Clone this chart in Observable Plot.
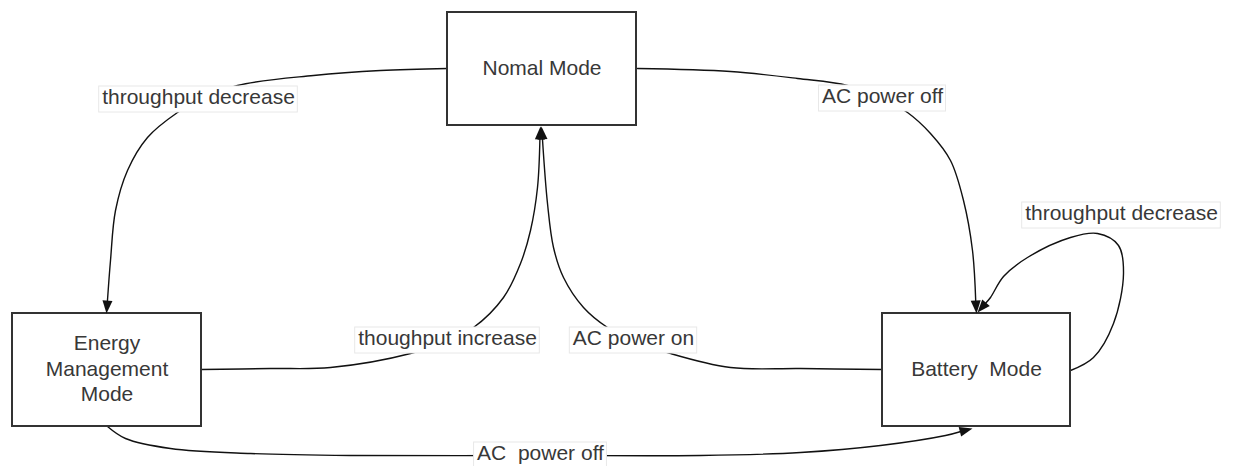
<!DOCTYPE html>
<html><head><meta charset="utf-8">
<script src="https://cdn.jsdelivr.net/npm/d3@7"></script>
<script src="https://cdn.jsdelivr.net/npm/@observablehq/plot@0.6"></script>
<style>body{margin:0;background:#fff} svg text{white-space:pre}</style>
</head><body><div id="chart"></div>
<script>
// ---- States (diagram coordinates, pixel space of the original figure) ----
const stateNames = ["Nomal Mode", "Energy\nManagement\nMode", "Battery  Mode"];
const stateX1 = [447, 12, 882];
const stateX2 = [636, 201, 1070];
const stateY1 = [12, 313, 313];
const stateY2 = [125, 426, 426];

// ---- Transitions ----
const edgeLabels = ["throughput decrease", "AC power off", "thoughput increase", "AC power on", "throughput decrease", "AC  power off"];
const edgeLabelX = [198, 882, 447, 633, 1121, 540];
const edgeLabelY = [99, 98, 340, 340, 215, 455];
const edgeTipX = [106, 976, 540, 541, 977, 972];
const edgeTipY = [313, 313, 126, 126, 312, 428];
const edgePaths = [
  [[447,68],[380,70],[313,75],[237,85],[198,100],[177,112],[147,137],[127,170],[115,210],[110,260]],
  [[637,68],[730,71],[797,78],[847,85],[882,98],[907,112],[930,133],[950,160],[963,200],[972,250]],
  [[201,369],[270,368],[330,367],[410,353],[447,340],[473,327],[503,297],[520,263],[530,230],[537,187]],
  [[882,369],[800,368],[730,367],[670,353],[633,340],[607,327],[583,307],[563,277],[553,247],[547,203]],
  [[1070,370],[1093,357],[1113,323],[1123,273],[1118,245],[1097,233],[1070,237],[1027,257],[1003,276],[990,297]],
  [[107,426],[125,438],[170,448],[250,453],[350,455],[540,455],[700,455],[800,452],[880,445],[945,435]]
];

const ARROW_LEN = 13, ARROW_HALF = 5;
const FONT = "Liberation Sans, Arial, sans-serif";
const FONT_SIZE = 21;

// build tables
const states = stateNames.map((name, i) => ({
  name, x1: stateX1[i], x2: stateX2[i], y1: stateY1[i], y2: stateY2[i],
  cx: (stateX1[i] + stateX2[i]) / 2, cy: (stateY1[i] + stateY2[i]) / 2
}));

const lineRows = [];
const arrows = [];
edgePaths.forEach((pts, e) => {
  const tx = edgeTipX[e], ty = edgeTipY[e];
  const [px, py] = pts[pts.length - 1];
  const dx = tx - px, dy = ty - py, n = Math.hypot(dx, dy);
  const bx = tx - dx / n * (ARROW_LEN - 1), by = ty - dy / n * (ARROW_LEN - 1);
  pts.forEach(([x, y]) => lineRows.push({edge: e, x, y}));
  lineRows.push({edge: e, x: bx, y: by});
  arrows.push({x: tx, y: ty, angle: Math.atan2(dx, -dy) * 180 / Math.PI});
});

const ctx = document.createElement("canvas").getContext("2d");
ctx.font = `${FONT_SIZE}px 'Liberation Sans'`;
const labels = edgeLabels.map((t, i) => {
  const w = ctx.measureText(t).width + 6;
  return {text: t, x: edgeLabelX[i], y: edgeLabelY[i], x1: edgeLabelX[i] - w / 2, x2: edgeLabelX[i] + w / 2, y1: edgeLabelY[i] - 13, y2: edgeLabelY[i] + 13};
});

const arrowSymbol = {
  draw(context) {
    context.moveTo(0, 0);
    context.lineTo(-ARROW_HALF, ARROW_LEN);
    context.lineTo(ARROW_HALF, ARROW_LEN);
    context.closePath();
  }
};

const chart = Plot.plot({
  width: 1241,
  height: 466,
  margin: 0,
  style: {background: "#fff", fontFamily: FONT},
  x: {domain: [0, 1241], range: [0, 1241], axis: null},
  y: {domain: [0, 466], range: [0, 466], axis: null},
  marks: [
    Plot.line(lineRows, {x: "x", y: "y", z: "edge", curve: "catmull-rom", stroke: "#111", strokeWidth: 1.4}),
    Plot.rect(labels, {x1: "x1", x2: "x2", y1: "y1", y2: "y2", fill: "#fff", stroke: "#e8e8e8", strokeWidth: 1}),
    Plot.text(labels, {x: "x", y: "y", text: "text", fontSize: FONT_SIZE, fontFamily: FONT, fill: "#383838", dy: -2}),
    Plot.rect(states, {x1: "x1", x2: "x2", y1: "y1", y2: "y2", fill: "#fff", stroke: "#333", strokeWidth: 2}),
    Plot.text(states, {x: "cx", y: "cy", text: "name", fontSize: FONT_SIZE, fontFamily: FONT, fill: "#383838", lineHeight: 1.2, dy: -2.5}),
    Plot.dot(arrows, {x: "x", y: "y", rotate: "angle", symbol: arrowSymbol, r: 5, fill: "#111", stroke: "none"})
  ]
});
document.getElementById("chart").appendChild(chart);
</script>
</body></html>
